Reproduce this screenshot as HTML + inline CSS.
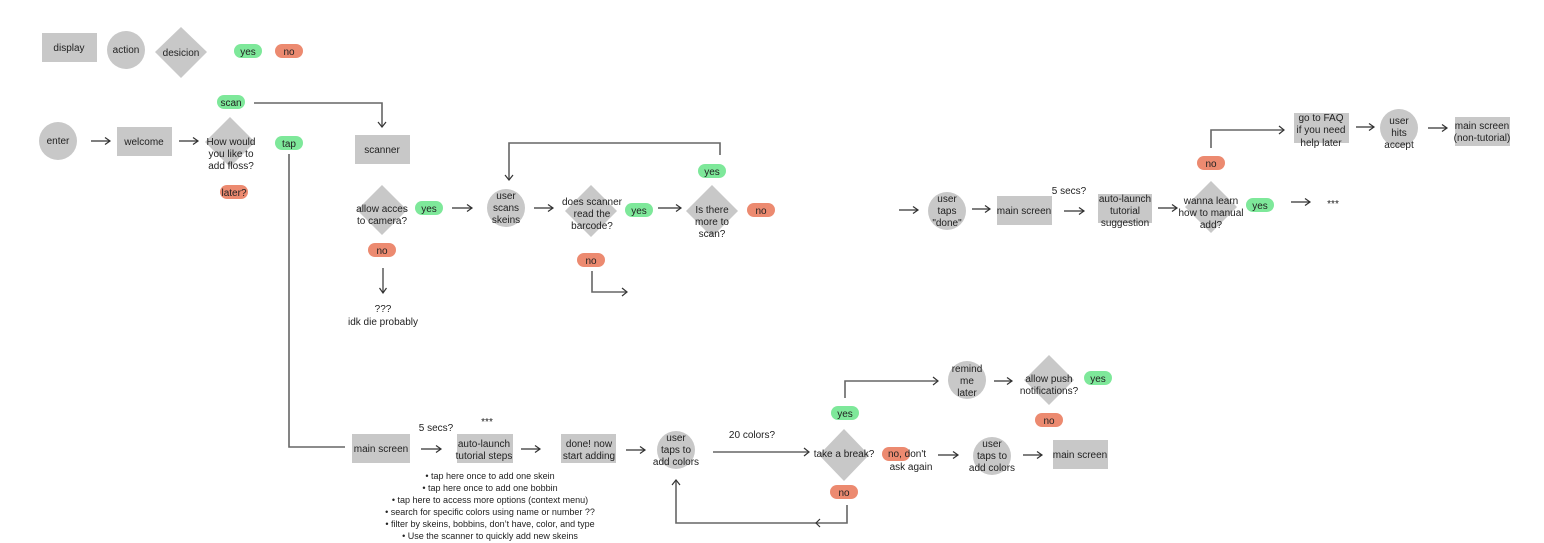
<!DOCTYPE html>
<html><head><meta charset="utf-8"><style>
html,body{margin:0;padding:0;background:#fff;}
svg{display:block;}
text{font-family:"Liberation Sans",sans-serif;font-size:10px;fill:#222;text-anchor:middle;}
.g{fill:#c8c8c8;}
.y{fill:#7ee89a;}
.n{fill:#ec8a70;}
.l{stroke:#666;stroke-width:1.6;fill:none;}
.a{stroke:#333;stroke-width:1.2;fill:none;}
.b{font-size:9px;}
</style></head><body>
<svg width="1544" height="543" viewBox="0 0 1544 543">
<defs>
<marker id="m" markerWidth="8" markerHeight="8" refX="6" refY="4" orient="auto" markerUnits="userSpaceOnUse">
<path d="M1,0.5 L6,4 L1,7.5" fill="none" stroke="#333" stroke-width="1.2"/></marker>
</defs>

<!-- legend -->
<rect class="g" x="42" y="33" width="55" height="29"/><text x="69" y="51">display</text>
<circle class="g" cx="126" cy="50" r="19"/><text x="126" y="53">action</text>
<polygon class="g" points="181,27 207,52 181,78 155,52"/><text x="181" y="56">desicion</text>
<rect class="y" x="234" y="44" width="28" height="14" rx="7"/><text x="248" y="55">yes</text>
<rect class="n" x="275" y="44" width="28" height="14" rx="7"/><text x="289" y="55">no</text>

<!-- row 1 -->
<circle class="g" cx="58" cy="141" r="19"/><text x="58" y="144">enter</text>
<line class="a" x1="91" y1="141" x2="110" y2="141" marker-end="url(#m)"/>
<rect class="g" x="117" y="127" width="55" height="29"/><text x="144" y="145">welcome</text>
<line class="a" x1="179" y1="141" x2="198" y2="141" marker-end="url(#m)"/>
<polygon class="g" points="230,117 255,142 230,167 205,142"/>
<text x="231" y="145">How would</text><text x="231" y="157">you like to</text><text x="231" y="169">add floss?</text>
<rect class="y" x="217" y="95" width="28" height="14" rx="7"/><text x="231" y="106">scan</text>
<polyline class="l" points="254,103 382,103 382,126"/>
<path d="M378,122 L382,127 L386,122" class="a"/>
<rect class="n" x="220" y="185" width="28" height="14" rx="7"/><text x="234" y="196">later?</text>
<rect class="y" x="275" y="136" width="28" height="14" rx="7"/><text x="289" y="147">tap</text>
<polyline class="l" points="289,154 289,447 345,447"/>

<rect class="g" x="355" y="135" width="55" height="29"/><text x="382" y="153">scanner</text>
<polygon class="g" points="382,185 407,210 382,235 357,210"/>
<text x="382" y="212">allow acces</text><text x="382" y="224">to camera?</text>
<rect class="y" x="415" y="201" width="28" height="14" rx="7"/><text x="429" y="212">yes</text>
<line class="a" x1="452" y1="208" x2="472" y2="208" marker-end="url(#m)"/>
<rect class="n" x="368" y="243" width="28" height="14" rx="7"/><text x="382" y="254">no</text>
<line class="a" x1="383" y1="268" x2="383" y2="293" marker-end="url(#m)"/>
<text x="383" y="312">???</text><text x="383" y="325">idk die probably</text>

<circle class="g" cx="506" cy="208" r="19"/>
<text x="506" y="199">user</text><text x="506" y="211">scans</text><text x="506" y="223">skeins</text>
<polyline class="l" points="720,155 720,143 509,143 509,179"/>
<path d="M505,175 L509,180 L513,175" class="a"/>
<line class="a" x1="534" y1="208" x2="553" y2="208" marker-end="url(#m)"/>
<polygon class="g" points="591,185 617,211 591,237 565,211"/>
<text x="592" y="205">does scanner</text><text x="592" y="217">read the</text><text x="592" y="229">barcode?</text>
<rect class="y" x="625" y="203" width="28" height="14" rx="7"/><text x="639" y="214">yes</text>
<line class="a" x1="658" y1="208" x2="681" y2="208" marker-end="url(#m)"/>
<rect class="n" x="577" y="253" width="28" height="14" rx="7"/><text x="591" y="264">no</text>
<polyline class="l" points="592,271 592,292 626,292"/>
<path d="M622,288 L627,292 L622,296" class="a"/>
<polygon class="g" points="712,185 738,211 712,237 686,211"/>
<text x="712" y="213">Is there</text><text x="712" y="225">more to</text><text x="712" y="237">scan?</text>
<rect class="y" x="698" y="164" width="28" height="14" rx="7"/><text x="712" y="175">yes</text>
<rect class="n" x="747" y="203" width="28" height="14" rx="7"/><text x="761" y="214">no</text>

<!-- right top -->
<line class="a" x1="899" y1="210" x2="918" y2="210" marker-end="url(#m)"/>
<circle class="g" cx="947" cy="211" r="19"/>
<text x="947" y="202">user</text><text x="947" y="214">taps</text><text x="947" y="226">"done"</text>
<line class="a" x1="972" y1="209" x2="990" y2="209" marker-end="url(#m)"/>
<rect class="g" x="997" y="196" width="55" height="29"/><text x="1024" y="214">main screen</text>
<text x="1069" y="194">5 secs?</text>
<line class="a" x1="1064" y1="211" x2="1084" y2="211" marker-end="url(#m)"/>
<rect class="g" x="1098" y="194" width="54" height="29"/>
<text x="1125" y="202">auto-launch</text><text x="1125" y="214">tutorial</text><text x="1125" y="226">suggestion</text>
<line class="a" x1="1158" y1="208" x2="1177" y2="208" marker-end="url(#m)"/>
<polygon class="g" points="1211,181 1237,207 1211,233 1185,207"/>
<text x="1211" y="204">wanna learn</text><text x="1211" y="216">how to manual</text><text x="1211" y="228">add?</text>
<rect class="y" x="1246" y="198" width="28" height="14" rx="7"/><text x="1260" y="209">yes</text>
<line class="a" x1="1291" y1="202" x2="1310" y2="202" marker-end="url(#m)"/>
<text x="1333" y="207">***</text>
<rect class="n" x="1197" y="156" width="28" height="14" rx="7"/><text x="1211" y="167">no</text>
<polyline class="l" points="1211,148 1211,130 1283,130"/>
<path d="M1279,126 L1284,130 L1279,134" class="a"/>
<rect class="g" x="1294" y="113" width="55" height="30"/>
<text x="1321" y="121">go to FAQ</text><text x="1321" y="133">if you need</text><text x="1321" y="146">help later</text>
<line class="a" x1="1356" y1="127" x2="1374" y2="127" marker-end="url(#m)"/>
<circle class="g" cx="1399" cy="128" r="19"/>
<text x="1399" y="124">user</text><text x="1399" y="136">hits</text><text x="1399" y="148">accept</text>
<line class="a" x1="1428" y1="128" x2="1447" y2="128" marker-end="url(#m)"/>
<rect class="g" x="1455" y="117" width="55" height="29"/>
<text x="1482" y="129">main screen</text><text x="1482" y="141">(non-tutorial)</text>

<!-- bottom -->
<rect class="g" x="352" y="434" width="58" height="29"/><text x="381" y="452">main screen</text>
<text x="436" y="431">5 secs?</text>
<line class="a" x1="421" y1="449" x2="441" y2="449" marker-end="url(#m)"/>
<text x="487" y="425">***</text>
<rect class="g" x="457" y="434" width="56" height="29"/>
<text x="484" y="447">auto-launch</text><text x="484" y="459">tutorial steps</text>
<line class="a" x1="521" y1="449" x2="540" y2="449" marker-end="url(#m)"/>
<rect class="g" x="561" y="434" width="55" height="29"/>
<text x="589" y="447">done! now</text><text x="589" y="459">start adding</text>
<line class="a" x1="626" y1="450" x2="645" y2="450" marker-end="url(#m)"/>
<circle class="g" cx="676" cy="450" r="19"/>
<text x="676" y="441">user</text><text x="676" y="453">taps to</text><text x="676" y="465">add colors</text>
<g class="b">
<text class="b" x="490" y="479">•  tap here once to add one skein</text>
<text class="b" x="490" y="491">•  tap here once to add one bobbin</text>
<text class="b" x="490" y="503">•  tap here to access more options (context menu)</text>
<text class="b" x="490" y="515">•  search for specific colors using name or number ??</text>
<text class="b" x="490" y="527">•  filter by skeins, bobbins, don’t have, color, and type</text>
<text class="b" x="490" y="539">•  Use the scanner to quickly add new skeins</text>
</g>
<text x="752" y="438">20 colors?</text>
<line class="l" x1="713" y1="452" x2="808" y2="452"/>
<path d="M804,448 L809,452 L804,456" class="a"/>
<polygon class="g" points="844,429 869,455 844,481 819,455"/>
<text x="844" y="457">take a break?</text>
<rect class="y" x="831" y="406" width="28" height="14" rx="7"/><text x="845" y="417">yes</text>
<polyline class="l" points="845,398 845,381 937,381"/>
<path d="M933,377 L938,381 L933,385" class="a"/>
<circle class="g" cx="967" cy="380" r="19"/>
<text x="967" y="372">remind</text><text x="967" y="384">me</text><text x="967" y="396">later</text>
<line class="a" x1="994" y1="381" x2="1012" y2="381" marker-end="url(#m)"/>
<polygon class="g" points="1049,355 1074,380 1049,405 1024,380"/>
<text x="1049" y="382">allow push</text><text x="1049" y="394">notifications?</text>
<rect class="y" x="1084" y="371" width="28" height="14" rx="7"/><text x="1098" y="382">yes</text>
<rect class="n" x="1035" y="413" width="28" height="14" rx="7"/><text x="1049" y="424">no</text>
<rect class="n" x="882" y="447" width="28" height="14" rx="7"/>
<text x="907" y="457">no, don't</text><text x="911" y="470">ask again</text>
<line class="a" x1="938" y1="455" x2="958" y2="455" marker-end="url(#m)"/>
<circle class="g" cx="992" cy="456" r="19"/>
<text x="992" y="447">user</text><text x="992" y="459">taps to</text><text x="992" y="471">add colors</text>
<line class="a" x1="1023" y1="455" x2="1042" y2="455" marker-end="url(#m)"/>
<rect class="g" x="1053" y="440" width="55" height="29"/><text x="1080" y="458">main screen</text>
<rect class="n" x="830" y="485" width="28" height="14" rx="7"/><text x="844" y="496">no</text>
<polyline class="l" points="847,505 847,523 676,523 676,481"/>
<path d="M672,485 L676,480 L680,485" class="a"/>
<path d="M820,519 L816,523 L820,527" class="a"/>
</svg>
</body></html>
